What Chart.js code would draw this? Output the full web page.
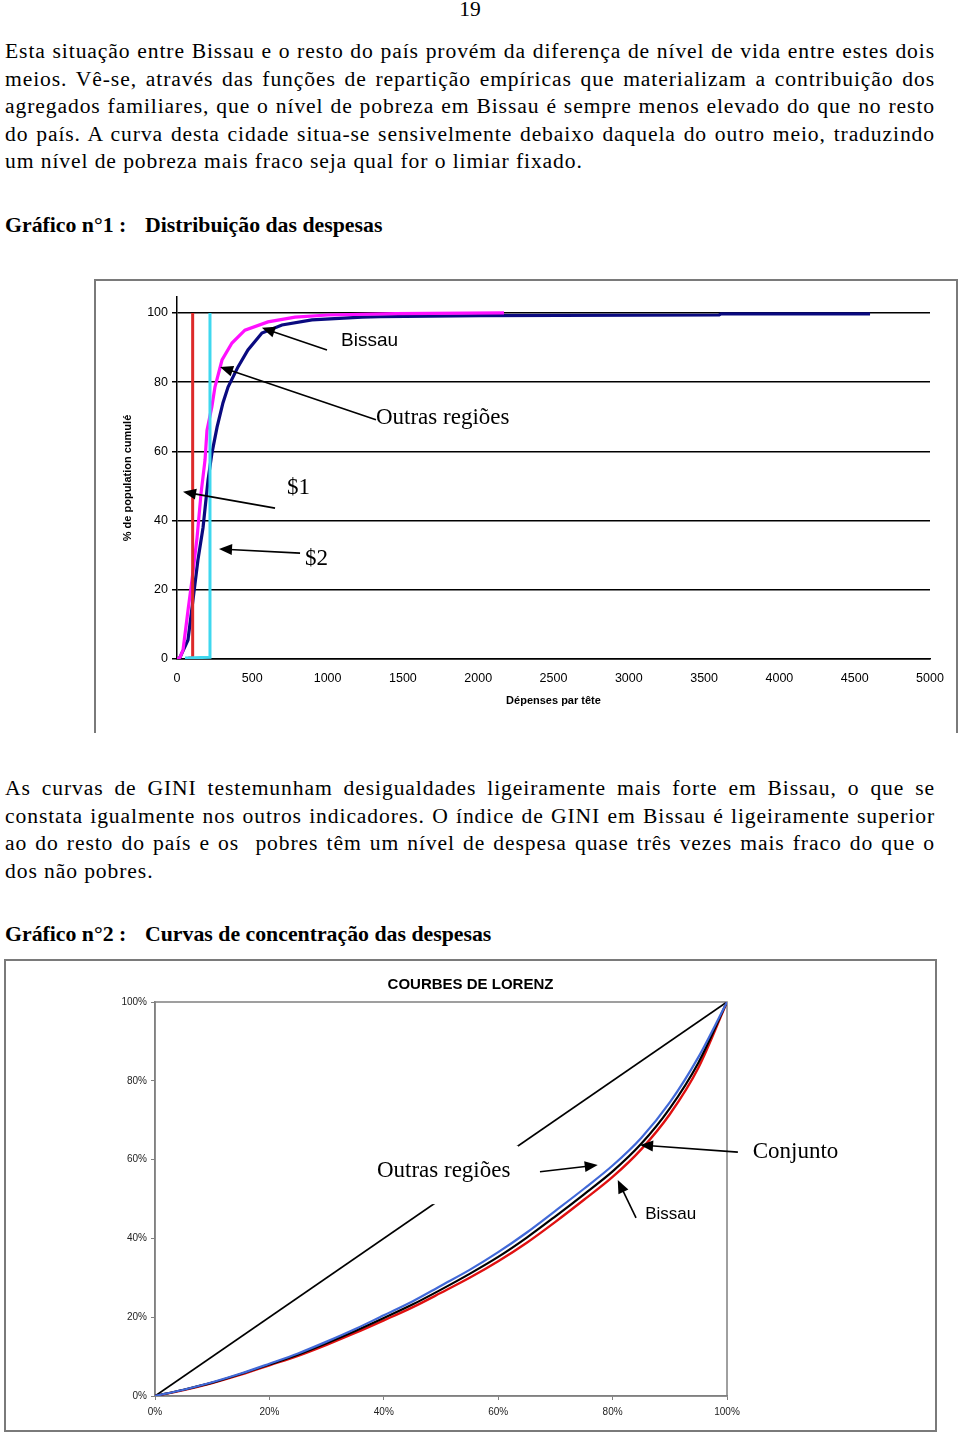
<!DOCTYPE html>
<html lang="pt">
<head>
<meta charset="UTF-8">
<title>Distribuição das despesas</title>
<script src="https://cdn.jsdelivr.net/npm/chart.js"></script>
<style>
    body { margin: 0; background: #fff; width: 960px; height: 1434px; position: relative; overflow: hidden;
           font-family: "Liberation Serif", "Times New Roman", serif; color: #000; }
    .txt { position: absolute; left: 5px; width: 930px; font-size: 21.6px; line-height: 27.5px; letter-spacing: 0.9px; }
    .j { text-align: justify; text-align-last: justify; white-space: nowrap; }
    .head { position: absolute; font-size: 21.8px; line-height: 27.5px; font-weight: bold; white-space: nowrap; }
    #frame1 { position: absolute; left: 94px; top: 279px; width: 860px; height: 452px;
              border: 2px solid #7a7a7a; border-bottom: none; }
    #frame2 { position: absolute; left: 4px; top: 959px; width: 929px; height: 469px; border: 2px solid #7a7a7a; }
    canvas { position: absolute; }
</style>
</head>
<body>
<div class="head" style="left:0;width:940px;top:-4px;text-align:center;font-weight:normal;font-size:21.6px">19</div>

<div class="txt" style="top:38px">
    <div class="j">Esta situação entre Bissau e o resto do país provém da diferença de nível de vida entre estes dois</div>
    <div class="j">meios. Vê-se, através das funções de repartição empíricas que materializam a contribuição dos</div>
    <div class="j">agregados familiares, que o nível de pobreza em Bissau é sempre menos elevado do que no resto</div>
    <div class="j">do país. A curva desta cidade situa-se sensivelmente debaixo daquela do outro meio, traduzindo</div>
    <div>um nível de pobreza mais fraco seja qual for o limiar fixado.</div>
</div>

<div class="head" style="left:5px;top:212px">Gráfico n°1 :</div>
<div class="head" style="left:145px;top:212px">Distribuição das despesas</div>

<div id="frame1"></div>
<canvas id="chart1" width="862" height="452" style="left:95px;top:280px"></canvas>

<div class="txt" style="top:775px">
    <div class="j">As curvas de GINI testemunham desigualdades ligeiramente mais forte em Bissau, o que se</div>
    <div class="j">constata igualmente nos outros indicadores. O índice de GINI em Bissau é ligeiramente superior</div>
    <div class="j">ao do resto do país e os&nbsp; pobres têm um nível de despesa quase três vezes mais fraco do que o</div>
    <div>dos não pobres.</div>
</div>

<div class="head" style="left:5px;top:921px">Gráfico n°2 :</div>
<div class="head" style="left:145px;top:921px">Curvas de concentração das despesas</div>

<div id="frame2"></div>
<canvas id="chart2" width="927" height="466" style="left:7px;top:962px"></canvas>

<script>
// ---- Gráfico 1 : fonctions de répartition (dépenses par tête, % population cumulée)
const xTicks1 = [0, 500, 1000, 1500, 2000, 2500, 3000, 3500, 4000, 4500, 5000];
const yTicks1 = [0, 20, 40, 60, 80, 100];

const outrasX = [0, 20, 40, 73, 100, 133, 160, 186, 199, 232, 252, 299, 365, 451, 604, 784, 1003, 1448, 2171];
const outrasY = [0, 0.5, 2.6, 14, 23, 35, 48, 57.5, 66, 73, 78.6, 86.4, 91.3, 95, 97.4, 98.8, 99.4, 99.8, 100];

const bissauX = [0, 20, 73, 106, 139, 173, 206, 232, 266, 305, 339, 405, 471, 564, 697, 896, 1228, 1348, 2012, 3600, 3612, 4602];
const bissauY = [0, 0.5, 5.5, 17, 28.6, 38, 51.7, 59.5, 67, 74, 78.6, 84.4, 89.3, 94.2, 96.5, 98, 98.8, 98.9, 99.2, 99.4, 99.7, 99.7];

const seuil1X = [75, 104, 104];      // $1
const seuil1Y = [0.3, 0.3, 100];
const seuil2X = [53, 219, 219];      // $2
const seuil2Y = [0.3, 0.5, 100];

// ---- Gráfico 2 : courbes de Lorenz
const lorenzX = [0, 5, 10, 15, 20, 25, 30, 35, 40, 45, 50, 55, 60, 65, 70, 75, 80, 85, 90, 95, 100];
const lorenzOutras = [0, 1.6, 3.5, 5.7, 8.2, 10.8, 13.8, 17, 20.5, 24, 28, 32, 36.5, 41.5, 47, 52.6, 58.5, 65.5, 74.5, 86, 100];
const lorenzConjunto = [0, 1.6, 3.4, 5.6, 8.0, 10.5, 13.4, 16.5, 19.8, 23.2, 27, 31, 35.3, 40.2, 45.6, 51.2, 57, 64, 73, 84.6, 100];
const lorenzBissau = [0, 1.5, 3.3, 5.4, 7.8, 10.2, 13, 16, 19.2, 22.5, 26.2, 30, 34.2, 38.9, 44.2, 49.8, 55.6, 62.6, 71.5, 83.3, 100];
const egalite = [0, 100];
const ticks2 = [0, 20, 40, 60, 80, 100];

const SERIF = '"Liberation Serif", "Times New Roman", serif';
const SANS = '"Liberation Sans", Arial, sans-serif';
Chart.defaults.font.family = SANS;
Chart.defaults.color = '#000';

function pts(xs, ys) { return xs.map((x, i) => ({ x: x, y: ys[i] })); }

function arrow(ctx, x1, y1, x2, y2) {
    const a = Math.atan2(y2 - y1, x2 - x1), len = 13, w = 5.5;
    ctx.beginPath(); ctx.moveTo(x1, y1); ctx.lineTo(x2 - Math.cos(a) * len * 0.8, y2 - Math.sin(a) * len * 0.8); ctx.stroke();
    ctx.beginPath();
    ctx.moveTo(x2, y2);
    ctx.lineTo(x2 - Math.cos(a) * len - Math.sin(a) * w, y2 - Math.sin(a) * len + Math.cos(a) * w);
    ctx.lineTo(x2 - Math.cos(a) * len + Math.sin(a) * w, y2 - Math.sin(a) * len - Math.cos(a) * w);
    ctx.closePath(); ctx.fill();
}

// labels & arrows placed in data units, converted through the scales
function notesPlugin(notes, arrows, boxes, extra) {
    return {
        id: 'notes',
        beforeDatasetsDraw(chart) { if (extra && extra.before) extra.before(chart); },
        afterDatasetsDraw(chart) {
            const { ctx, scales: { x, y } } = chart;
            ctx.save();
            boxes.forEach(b => {
                const l = x.getPixelForValue(b[0]), r = x.getPixelForValue(b[1]);
                const t = y.getPixelForValue(b[3]), bt = y.getPixelForValue(b[2]);
                ctx.fillStyle = '#fff'; ctx.fillRect(l, t, r - l, bt - t);
            });
            ctx.strokeStyle = '#000'; ctx.fillStyle = '#000'; ctx.lineWidth = 1.6;
            arrows.forEach(a => arrow(ctx, x.getPixelForValue(a[0]), y.getPixelForValue(a[1]),
                                            x.getPixelForValue(a[2]), y.getPixelForValue(a[3])));
            ctx.textBaseline = 'middle'; ctx.textAlign = 'left';
            notes.forEach(n => {
                ctx.font = n.font;
                ctx.fillText(n.text, x.getPixelForValue(n.x), y.getPixelForValue(n.y));
            });
            if (extra && extra.after) extra.after(chart);
            ctx.restore();
        }
    };
}

// ---------- chart 1
const notes1 = [
    { text: 'Bissau', x: 1089, y: 91.9, font: '19px ' + SANS },
    { text: 'Outras regiões', x: 1321, y: 69.7, font: '23px ' + SERIF },
    { text: '$1', x: 730, y: 49.4, font: '23px ' + SERIF },
    { text: '$2', x: 850, y: 28.9, font: '23px ' + SERIF }
];
const arrows1 = [
    [996, 89.3, 564, 95.7],
    [1321, 69.1, 286, 84.4],
    [651, 43.6, 40, 48.3],
    [817, 30.6, 279, 31.8]
];

new Chart(document.getElementById('chart1'), {
    type: 'line',
    data: {
        datasets: [
            { label: '$2', data: pts(seuil2X, seuil2Y), borderColor: '#3fd8ef', borderWidth: 3 },
            { label: '$1', data: pts(seuil1X, seuil1Y), borderColor: '#dd2a2a', borderWidth: 3 },
            { label: 'Outras regiões', data: pts(outrasX, outrasY), borderColor: '#ff10ff', borderWidth: 3.2 },
            { label: 'Bissau', data: pts(bissauX, bissauY), borderColor: '#0a0a80', borderWidth: 3.2 }
        ]
    },
    options: {
        responsive: false,
        animation: false,
        layout: { padding: { top: 17, right: 27, left: 0, bottom: 0 } },
        elements: { point: { radius: 0 }, line: { tension: 0 } },
        plugins: { legend: { display: false }, tooltip: { enabled: false } },
        scales: {
            x: {
                type: 'linear', min: 0, max: 5000,
                afterBuildTicks: s => { s.ticks = xTicks1.map(v => ({ value: v })); },
                afterFit: s => { s.height = 73; },
                grid: { display: false, drawTicks: false },
                border: { display: true, color: '#000', width: 1.5 },
                ticks: { font: { size: 12.5 }, padding: 12, maxRotation: 0, autoSkip: false, callback: v => String(v) },
                title: { display: true, text: 'Dépenses par tête', font: { size: 11, weight: 'bold' }, padding: { top: 0, bottom: 24 } }
            },
            y: {
                min: 0, max: 104.6,
                afterBuildTicks: s => { s.ticks = yTicks1.map(v => ({ value: v })); },
                afterFit: s => { s.width = 82; },
                grid: { color: '#000', lineWidth: 1.5, tickLength: 5 },
                border: { display: true, color: '#000', width: 1.5 },
                ticks: { font: { size: 12.5 }, padding: 4, callback: v => String(v) },
                title: { display: true, text: '% de population cumulé', font: { size: 11, weight: 'bold' }, padding: { top: 26, bottom: 0 } }
            }
        }
    },
    plugins: [notesPlugin(notes1, arrows1, [])]
});

// ---------- chart 2
const notes2 = [
    { text: 'Outras regiões', x: 38.8, y: 57.2, font: '23px ' + SERIF },
    { text: 'Conjunto', x: 104.5, y: 61.9, font: '23px ' + SERIF },
    { text: 'Bissau', x: 85.7, y: 46.2, font: '17px ' + SANS }
];
const arrows2 = [
    [67.3, 56.9, 77.4, 58.6],
    [101.9, 61.9, 84.8, 63.7],
    [84.1, 45.2, 80.9, 54.8]
];
const boxes2 = [[37.6, 63.5, 48.7, 63.5]];

new Chart(document.getElementById('chart2'), {
    type: 'line',
    data: {
        datasets: [
            { label: 'Outras regiões', data: pts(lorenzX, lorenzOutras), borderColor: '#4169d8', borderWidth: 2.2 },
            { label: 'Conjunto', data: pts(lorenzX, lorenzConjunto), borderColor: '#000', borderWidth: 2.2 },
            { label: 'Bissau', data: pts(lorenzX, lorenzBissau), borderColor: '#e01010', borderWidth: 2.4 },
            { label: 'Égalité', data: pts(egalite, egalite), borderColor: '#000', borderWidth: 1.8, cubicInterpolationMode: 'default' }
        ]
    },
    options: {
        responsive: false,
        animation: false,
        layout: { padding: { top: 40, right: 207, left: 0, bottom: 0 } },
        elements: { point: { radius: 0 }, line: { cubicInterpolationMode: 'monotone' } },
        plugins: { legend: { display: false }, tooltip: { enabled: false } },
        scales: {
            x: {
                type: 'linear', min: 0, max: 100,
                afterBuildTicks: s => { s.ticks = ticks2.map(v => ({ value: v })); },
                afterFit: s => { s.height = 32; },
                grid: { drawOnChartArea: false, color: '#808080', tickLength: 4 },
                border: { display: true, color: '#808080', width: 1.5 },
                ticks: { font: { size: 10 }, color: '#222', padding: 6, maxRotation: 0, callback: v => v + '%' }
            },
            y: {
                min: 0, max: 100,
                afterBuildTicks: s => { s.ticks = ticks2.map(v => ({ value: v })); },
                afterFit: s => { s.width = 148; },
                grid: { drawOnChartArea: false, color: '#808080', tickLength: 4 },
                border: { display: true, color: '#808080', width: 1.5 },
                ticks: { font: { size: 10 }, color: '#222', padding: 4, callback: v => v + '%' }
            }
        }
    },
    plugins: [notesPlugin(notes2, arrows2, boxes2, {
        before(chart) {
            const { ctx, chartArea: a } = chart;
            ctx.save();
            ctx.strokeStyle = '#808080'; ctx.lineWidth = 1.5;
            ctx.strokeRect(a.left, a.top, a.right - a.left, a.bottom - a.top);
            ctx.restore();
        },
        after(chart) {
            const { ctx } = chart;
            ctx.font = 'bold 15px ' + SANS; ctx.textAlign = 'center'; ctx.fillStyle = '#000';
            ctx.fillText('COURBES DE LORENZ', chart.width / 2, 23);
        }
    })]
});
</script>
</body>
</html>
